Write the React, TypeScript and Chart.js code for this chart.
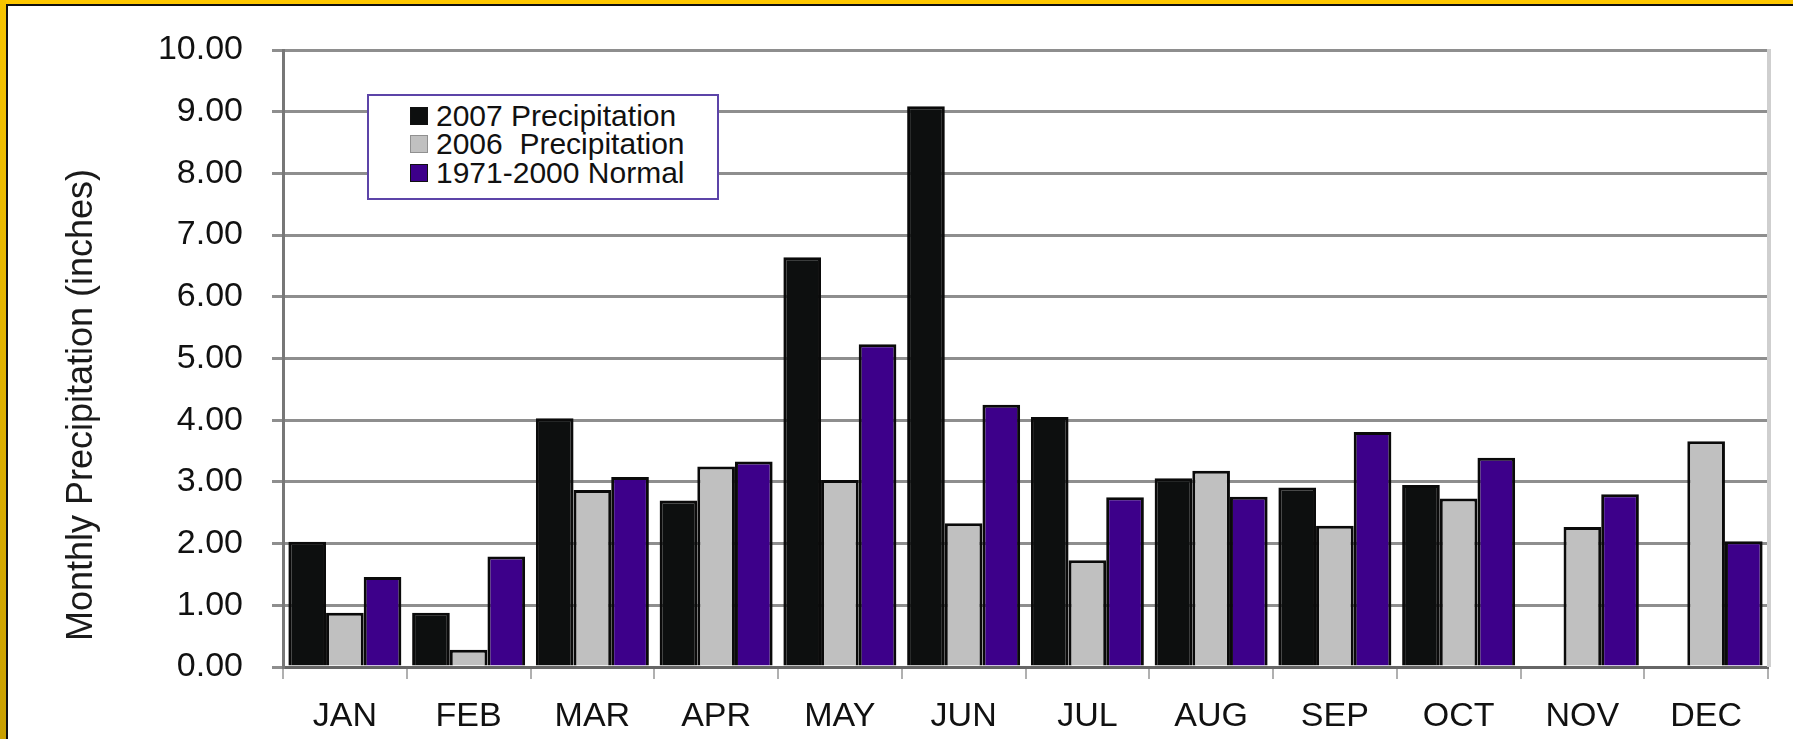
import React, { useEffect, useRef } from "react";
import { Chart, registerables } from "chart.js";

Chart.register(...registerables);

const months = ["JAN", "FEB", "MAR", "APR", "MAY", "JUN", "JUL", "AUG", "SEP", "OCT", "NOV", "DEC"];
const precip2007: (number | null)[] = [2.03, 0.88, 4.03, 2.7, 6.64, 9.09, 4.05, 3.06, 2.91, 2.95, null, null];
const precip2006: number[] = [0.88, 0.28, 2.87, 3.25, 3.03, 2.33, 1.73, 3.18, 2.29, 2.73, 2.27, 3.66];
const normal19712000: number[] = [1.46, 1.79, 3.08, 3.33, 5.23, 4.25, 2.75, 2.76, 3.81, 3.39, 2.8, 2.04];
const seriesLabels = ["2007 Precipitation", "2006  Precipitation", "1971-2000 Normal"];
const seriesColors = ["#0d0f0f", "#c0c0c0", "#3d008a"];
const yTitle = "Monthly Precipitation (inches)";

const FONT = "'Liberation Sans', Arial, Helvetica, sans-serif";
const W = 1793;
const H = 739;

const framePlugin = {
  id: "frame",
  beforeDraw(chart: any) {
    const ctx = chart.ctx;
    ctx.save();
    ctx.fillStyle = "#ffffff";
    ctx.fillRect(0, 0, W, H);
    ctx.restore();
  },
  afterDraw(chart: any) {
    const ctx = chart.ctx;
    const a = chart.chartArea;
    ctx.save();
    // right light border of plot
    ctx.strokeStyle = "#cfcfcf";
    ctx.lineWidth = 4;
    ctx.beginPath();
    ctx.moveTo(a.right + 1, a.top - 1);
    ctx.lineTo(a.right + 1, a.bottom);
    ctx.stroke();
    // y axis title
    ctx.translate(82, 405);
    ctx.rotate(-Math.PI / 2);
    ctx.fillStyle = "#1a1a1a";
    ctx.font = `36px ${FONT}`;
    ctx.textAlign = "center";
    ctx.textBaseline = "middle";
    ctx.fillText(yTitle, 0, 0);
    ctx.restore();
    // gold frame
    ctx.save();
    ctx.fillStyle = "#ffc800";
    ctx.fillRect(0, 0, W, 4);
    const g = ctx.createLinearGradient(0, 0, 0, H);
    g.addColorStop(0, "#f7c400");
    g.addColorStop(1, "#c9a000");
    ctx.fillStyle = g;
    ctx.fillRect(0, 0, 6, H);
    ctx.fillStyle = "#111111";
    ctx.fillRect(6, 4, W - 6, 2);
    ctx.fillRect(6, 4, 2, H - 4);
    ctx.restore();
  },
};

function Legend() {
  const rowTop = 101.6;
  const rowH = 28.5;
  return (
    <div
      style={{
        position: "absolute",
        left: 367,
        top: 94,
        width: 352,
        height: 106,
        boxSizing: "border-box",
        border: "2px solid #5c44a8",
        background: "#ffffff",
        pointerEvents: "none",
      }}
    >
      {seriesLabels.map((lab, i) => (
        <div
          key={lab}
          style={{
            position: "absolute",
            left: 410 - 369,
            top: rowTop - 96 + rowH * i,
            height: rowH,
            display: "flex",
            alignItems: "center",
            whiteSpace: "pre",
            fontFamily: FONT,
            fontSize: 30,
            lineHeight: `${rowH}px`,
            color: "#111111",
          }}
        >
          <span
            style={{
              display: "inline-block",
              width: 18,
              height: 18,
              boxSizing: "border-box",
              background: seriesColors[i],
              border: i === 1 ? "1px solid #909090" : "1px solid #111",
              marginRight: 8,
            }}
          />
          <span>{lab}</span>
        </div>
      ))}
    </div>
  );
}

export default function App() {
  const canvasRef = useRef<HTMLCanvasElement | null>(null);

  useEffect(() => {
    document.body.style.margin = "0";
    const canvas = canvasRef.current;
    if (!canvas) return;
    const datasets = [precip2007, precip2006, normal19712000].map((d, i) => ({
      label: seriesLabels[i],
      data: d,
      backgroundColor: seriesColors[i],
      borderColor: "#0a0a0a",
      borderWidth: 3,
      borderSkipped: "bottom" as const,
      barPercentage: 1.0,
      categoryPercentage: 0.913,
    }));
    const chart = new Chart(canvas, {
      type: "bar",
      data: { labels: months, datasets },
      plugins: [framePlugin],
      options: {
        animation: false,
        responsive: false,
        maintainAspectRatio: false,
        devicePixelRatio: 1,
        layout: { padding: { left: 0, top: 50, right: 25, bottom: 0 } },
        plugins: {
          legend: { display: false },
          tooltip: { enabled: false },
          title: { display: false },
        },
        scales: {
          x: {
            offset: true,
            grid: {
              offset: true,
              drawOnChartArea: false,
              drawTicks: true,
              tickLength: 12,
              color: "#b0b0b0",
              lineWidth: 2,
            },
            border: { display: true, color: "#666666", width: 3 },
            ticks: {
              color: "#111111",
              font: { family: FONT, size: 34 },
              padding: 17,
              maxRotation: 0,
              autoSkip: false,
            },
            afterFit: (s: any) => {
              s.height = 72;
            },
          },
          y: {
            min: 0,
            max: 10,
            grid: {
              color: "#8e8e8e",
              lineWidth: 3,
              drawTicks: true,
              tickLength: 11,
            },
            border: { display: true, color: "#777777", width: 3 },
            ticks: {
              stepSize: 1,
              color: "#111111",
              font: { family: FONT, size: 34 },
              padding: 29,
              callback: (v: any) => Number(v).toFixed(2),
            },
            afterFit: (s: any) => {
              s.width = 283;
            },
          },
        },
      },
    });
    return () => chart.destroy();
  }, []);

  return (
    <div style={{ position: "absolute", left: 0, top: 0, width: W, height: H, overflow: "hidden" }}>
      <canvas ref={canvasRef} width={W} height={H} style={{ display: "block", width: W, height: H }} />
      <Legend />
    </div>
  );
}
